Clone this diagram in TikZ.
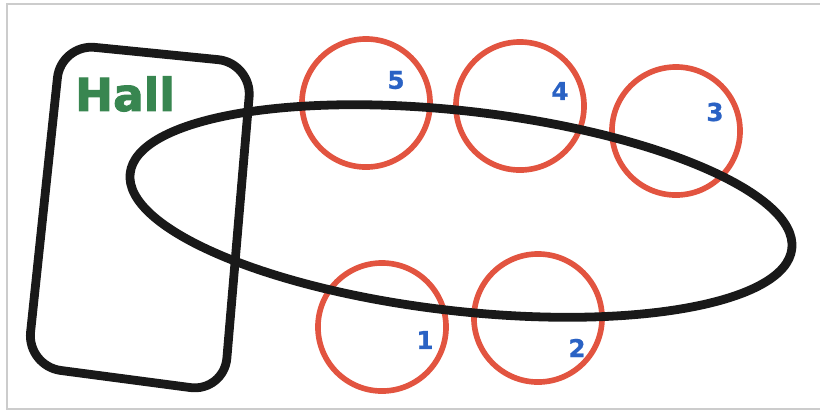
\documentclass[tikz,border=0pt]{standalone}
\usepackage{fontspec}
\setmainfont{DejaVu Sans}
\newfontface\hallfont[FakeBold=2.2]{DejaVu Sans Bold}
\newfontface\numfont[FakeBold=0.8]{DejaVu Sans Bold}
\begin{document}
\begin{tikzpicture}[x=0.01cm,y=-0.01cm,
  frame/.style={draw=black!20,line width=0.7pt},
  blackline/.style={draw=black!90,line width=2.5pt},
  seat/.style={circle,draw=seatred,line width=1.6pt,minimum size=1.28cm,inner sep=0pt},
  num/.style={text=numblue,font=\fontsize{7}{8}\selectfont\numfont,inner sep=0pt},
  hall/.style={text=hallgreen,font=\fontsize{12.9}{14}\selectfont\hallfont,inner sep=0pt}]
\definecolor{seatred}{RGB}{226,84,64}
\definecolor{numblue}{RGB}{42,98,196}
\definecolor{hallgreen}{RGB}{56,134,80}
\useasboundingbox (0,0) rectangle (820,411);
\coordinate (f1) at (820,4);
\coordinate (f2) at (7,4);
\coordinate (f3) at (7,409);
\coordinate (f4) at (820,409);
\draw[frame] (f1) -- (f2) -- (f3) -- (f4);
% seats
\node[seat] (s5) at (366,103) {};
\node[seat] (s4) at (520,106) {};
\node[seat] (s3) at (676,131) {};
\node[seat] (s1) at (382,327) {};
\node[seat] (s2) at (538,318) {};
% hall rectangle
\draw[blackline,rounded corners=0.34cm] (61,44) -- (252,63) -- (224,392) -- (27,366) -- cycle;
% table ellipse
\draw[blackline,rotate around={-6.5:(461,211)}] (461,211) ellipse [x radius=333, y radius=100];
% labels
\node[hall] (hl) at (125,94) {Hall};
\node[num] (n5) at (396,80) {5};
\node[num] (n4) at (560,91) {4};
\node[num] (n3) at (715,112) {3};
\node[num] (n1) at (425,340) {1};
\node[num] (n2) at (577,348) {2};
\end{tikzpicture}
\end{document}
